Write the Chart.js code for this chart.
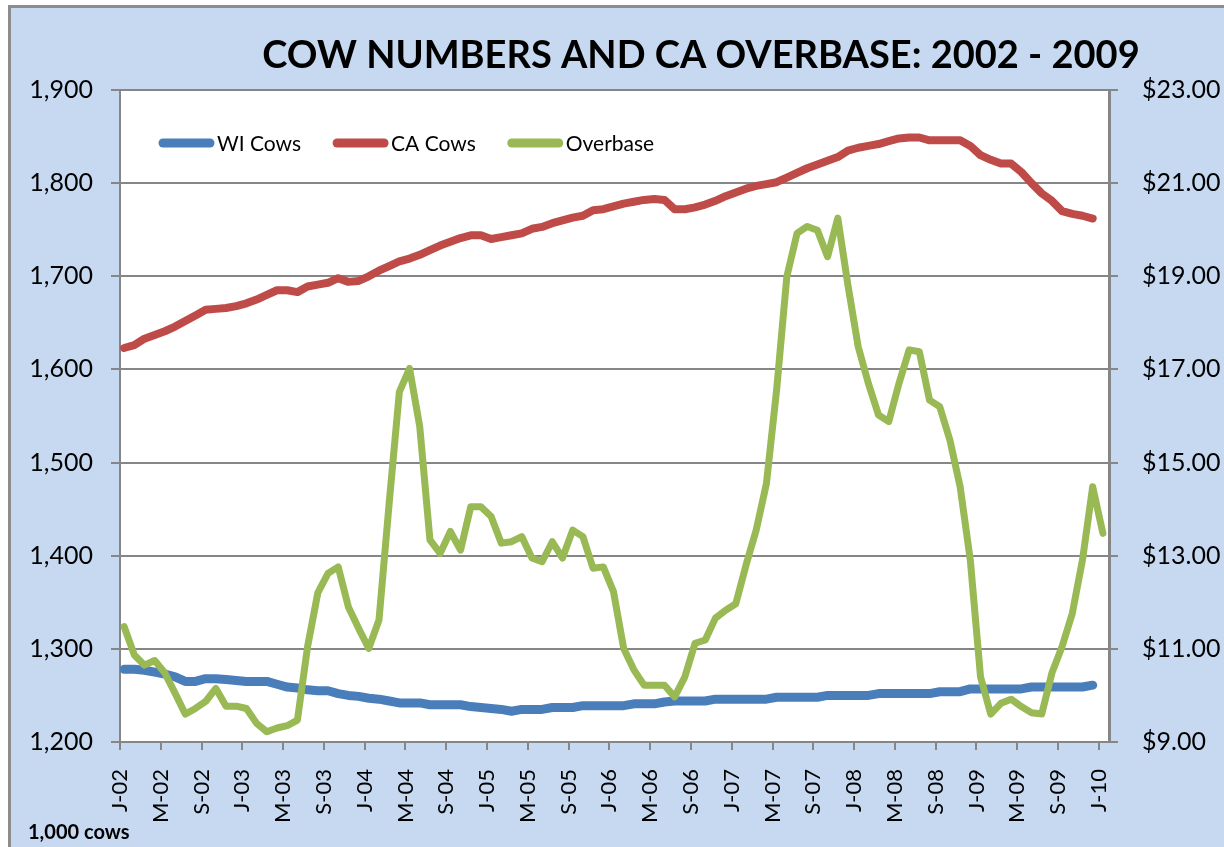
<!DOCTYPE html>
<html>
<head>
<meta charset="utf-8">
<script src="https://cdn.jsdelivr.net/npm/chart.js@4"></script>
<style>
html,body{margin:0;padding:0;background:#fff;overflow:hidden}
canvas{display:block}
</style>
</head>
<body>
<canvas id="c" width="1224" height="847"></canvas>
<script>
// ---- Data, monthly Jan 2002 onward ----
const tickLabels = ['J-02','M-02','S-02','J-03','M-03','S-03','J-04','M-04','S-04',
  'J-05','M-05','S-05','J-06','M-06','S-06','J-07','M-07','S-07','J-08','M-08','S-08',
  'J-09','M-09','S-09','J-10'];

const seriesNames = ['WI Cows', 'CA Cows', 'Overbase'];

const wiCows = [
  1278,1278,1277,1275,1273,1270,1265,1265,1268,1268,1267,1266,
  1265,1265,1265,1262,1259,1258,1256,1255,1255,1252,1250,1249,
  1247,1246,1244,1242,1242,1242,1240,1240,1240,1240,1238,1237,
  1236,1235,1233,1235,1235,1235,1237,1237,1237,1239,1239,1239,
  1239,1239,1241,1241,1241,1243,1244,1244,1244,1244,1246,1246,
  1246,1246,1246,1246,1248,1248,1248,1248,1248,1250,1250,1250,
  1250,1250,1252,1252,1252,1252,1252,1252,1254,1254,1254,1257,
  1257,1257,1257,1257,1257,1259,1259,1259,1259,1259,1259,1261
];

const caCows = [
  1623,1626,1633,1637,1641,1646,1652,1658,1664,1665,1666,1668,
  1671,1675,1680,1685,1685,1683,1689,1691,1693,1698,1694,1695,
  1700,1706,1711,1716,1719,1723,1728,1733,1737,1741,1744,1744,
  1740,1742,1744,1746,1751,1753,1757,1760,1763,1765,1771,1772,
  1775,1778,1780,1782,1783,1782,1772,1772,1774,1777,1781,1786,
  1790,1794,1797,1799,1801,1806,1811,1816,1820,1824,1828,1835,
  1838,1840,1842,1845,1848,1849,1849,1846,1846,1846,1846,1840,
  1830,1825,1821,1821,1812,1800,1789,1781,1770,1767,1765,1762
];

const overbase = [
  11.48,10.87,10.65,10.75,10.48,10.05,9.60,9.72,9.87,10.15,9.77,9.77,
  9.72,9.40,9.22,9.30,9.35,9.47,11.05,12.20,12.62,12.76,11.90,11.44,
  11.01,11.62,14.13,16.52,17.02,15.77,13.34,13.05,13.52,13.12,14.05,14.05,
  13.84,13.27,13.30,13.41,12.95,12.87,13.30,12.95,13.55,13.41,12.73,12.76,
  12.23,11.01,10.55,10.22,10.22,10.22,9.97,10.40,11.12,11.19,11.66,11.83,
  11.97,12.80,13.55,14.55,16.56,18.99,19.92,20.07,19.99,19.42,20.25,18.80,
  17.49,16.70,16.02,15.88,16.70,17.42,17.38,16.34,16.20,15.48,14.48,12.90,
  10.40,9.60,9.83,9.92,9.76,9.63,9.60,10.48,11.05,11.76,12.91,14.48,13.48
];

const chartTitle = 'COW NUMBERS AND CA OVERBASE: 2002 - 2009';
const unitNote = '1,000 cows';

// ---- Chart ----
const X_MIN = -0.4, X_MAX = 96.6;
const toXY = arr => arr.map((v, i) => ({ x: i, y: v }));
const GRID = '#868686';
const FONT = 'Lato';

const framePlugin = {
  id: 'frame',
  beforeDraw(chart) {
    const { ctx, chartArea: a, width, height } = chart;
    ctx.save();
    ctx.fillStyle = '#ffffff'; ctx.fillRect(0, 0, width, height);
    ctx.fillStyle = '#8c8c8c'; ctx.fillRect(8, 5, width, height);
    ctx.fillStyle = '#c6d9f0'; ctx.fillRect(11, 8, width, height);
    ctx.fillStyle = '#ffffff'; ctx.fillRect(a.left, a.top, a.right - a.left, a.bottom - a.top);
    ctx.restore();
  },
  afterDraw(chart) {
    const ctx = chart.ctx;
    ctx.save();
    ctx.fillStyle = '#000';
    ctx.font = 'bold 38px ' + FONT;
    ctx.textAlign = 'center';
    ctx.textBaseline = 'alphabetic';
    ctx.fillText(chartTitle, 701, 68);

    ctx.font = 'bold 20px ' + FONT;
    ctx.textAlign = 'left';
    ctx.fillText(unitNote, 28, 839);

    // legend inside plot area
    let x = 163; const y = 143;
    ctx.font = '21px ' + FONT;
    ctx.textBaseline = 'middle';
    chart.data.datasets.forEach(ds => {
      ctx.strokeStyle = ds.borderColor;
      ctx.lineWidth = 9;
      ctx.lineCap = 'round';
      ctx.beginPath(); ctx.moveTo(x, y); ctx.lineTo(x + 47, y); ctx.stroke();
      x += 47 + 7;
      ctx.fillStyle = '#000';
      ctx.fillText(ds.label, x, y + 1);
      x += ctx.measureText(ds.label).width + 36;
    });
    ctx.restore();
  }
};

new Chart(document.getElementById('c'), {
  type: 'line',
  data: {
    datasets: [
      { label: seriesNames[0], data: toXY(wiCows), borderColor: '#4a7ebb', borderWidth: 9, yAxisID: 'y', order: 1 },
      { label: seriesNames[1], data: toXY(caCows), borderColor: '#be4b48', borderWidth: 8, yAxisID: 'y', order: 2 },
      { label: seriesNames[2], data: toXY(overbase), borderColor: '#98b954', borderWidth: 7, yAxisID: 'y1', order: 0 }
    ]
  },
  options: {
    responsive: false,
    animation: false,
    devicePixelRatio: 1,
    layout: { padding: { top: 90, left: 0, right: 0, bottom: 0 } },
    elements: {
      point: { radius: 0 },
      line: { tension: 0, borderCapStyle: 'round', borderJoinStyle: 'round' }
    },
    plugins: { legend: { display: false }, title: { display: false }, tooltip: { enabled: false } },
    scales: {
      x: {
        type: 'linear', min: X_MIN, max: X_MAX, bounds: 'data',
        afterBuildTicks: s => { s.ticks = tickLabels.map((_, k) => ({ value: X_MIN + 4 * k })); },
        afterFit: s => { s.height = 105; },
        ticks: {
          autoSkip: false, minRotation: 90, maxRotation: 90, padding: 19, color: '#000',
          font: { family: FONT, size: 22 },
          callback: (v, i) => tickLabels[i]
        },
        grid: { drawOnChartArea: false, drawTicks: true, tickLength: 8, color: GRID, lineWidth: 2 },
        border: { display: true, color: GRID, width: 2 }
      },
      y: {
        position: 'left', min: 1200, max: 1900,
        afterFit: s => { s.width = 120; },
        ticks: {
          stepSize: 100, padding: 18, color: '#000', font: { family: FONT, size: 25 },
          callback: v => v.toLocaleString('en-US')
        },
        grid: { color: GRID, lineWidth: 2, tickLength: 9 },
        border: { display: true, color: GRID, width: 2 }
      },
      y1: {
        position: 'right', min: 9, max: 23,
        afterFit: s => { s.width = 115; },
        ticks: {
          stepSize: 2, padding: 24, color: '#000', font: { family: FONT, size: 25 },
          callback: v => '$' + v.toFixed(2)
        },
        grid: { drawOnChartArea: false, tickLength: 9, color: GRID, lineWidth: 2 },
        border: { display: true, color: GRID, width: 3 }
      }
    }
  },
  plugins: [framePlugin]
});
</script>
</body>
</html>
